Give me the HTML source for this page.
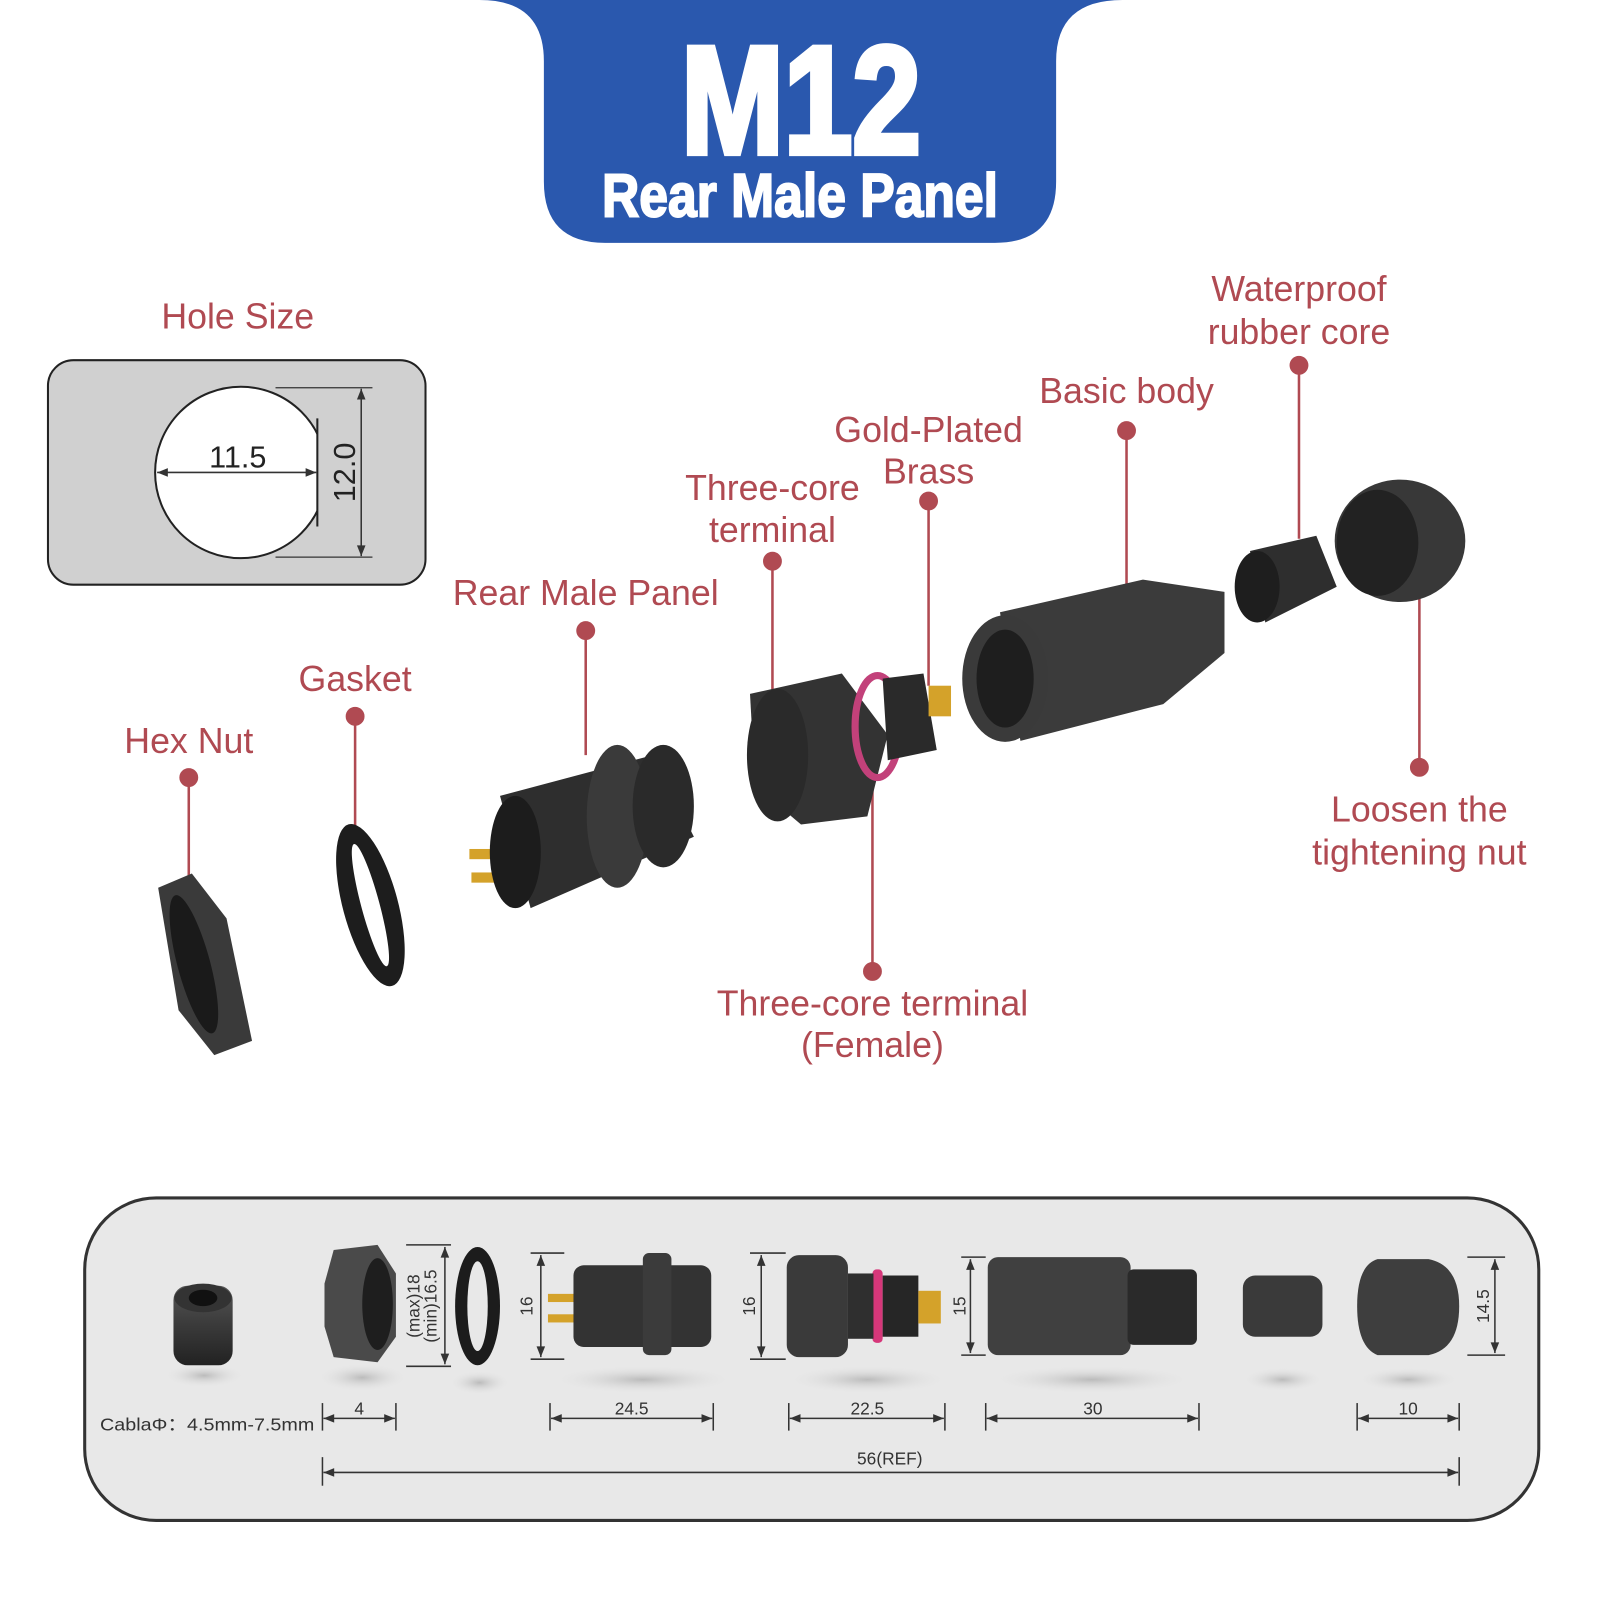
<!DOCTYPE html>
<html><head><meta charset="utf-8"><style>
html,body{margin:0;padding:0;background:#fff;}
svg{display:block}
.lab{font-family:"Liberation Sans",sans-serif;fill:#b04a52;font-size:35px;text-anchor:middle}
.dim{font-family:"Liberation Sans",sans-serif;fill:#333;font-size:17px;text-anchor:middle}
</style></head><body>
<svg width="1600" height="1600" viewBox="0 0 1568 1568" xmlns="http://www.w3.org/2000/svg">
<defs>
<marker id="a" viewBox="0 0 10 10" refX="10" refY="5" markerWidth="9" markerHeight="7" orient="auto-start-reverse"><path d="M0,1 L10,5 L0,9z" fill="#333"/></marker>
<linearGradient id="g" x1="0" y1="0" x2="0" y2="1"><stop offset="0" stop-color="#555"/><stop offset="0.5" stop-color="#3a3a3a"/><stop offset="1" stop-color="#222"/></linearGradient>
<radialGradient id="sh"><stop offset="0" stop-color="#bbb"/><stop offset="1" stop-color="#e8e8e8" stop-opacity="0"/></radialGradient>
</defs>
<path d="M470,0 H1100 Q1035,0 1035,60 V178 Q1035,238 975,238 H593 Q533,238 533,178 V60 Q533,0 470,0z" fill="#2a58ae"/>
<text x="785" y="150" font-family="Liberation Sans,sans-serif" font-weight="bold" font-size="150" fill="#fff" stroke="#fff" stroke-width="6" text-anchor="middle" textLength="235" lengthAdjust="spacingAndGlyphs">M12</text>
<text x="784" y="212" font-family="Liberation Sans,sans-serif" font-weight="bold" font-size="60" fill="#fff" stroke="#fff" stroke-width="2" text-anchor="middle" textLength="388" lengthAdjust="spacingAndGlyphs">Rear Male Panel</text>
<text class="lab" x="233" y="322" font-size="40">Hole Size</text>
<rect x="47" y="353" width="370" height="220" rx="25" fill="#d0d0d0" stroke="#222" stroke-width="2"/>
<clipPath id="hc"><rect x="140" y="370" width="171" height="190"/></clipPath>
<circle cx="236" cy="463" r="84" fill="#fff" stroke="#222" stroke-width="2" clip-path="url(#hc)"/>
<line x1="311" y1="410" x2="311" y2="516" stroke="#222" stroke-width="2"/>
<line x1="154" y1="463" x2="310" y2="463" stroke="#333" stroke-width="1.5" marker-start="url(#a)" marker-end="url(#a)"/>
<text x="233" y="458" font-family="Liberation Sans,sans-serif" font-size="30" fill="#222" text-anchor="middle">11.5</text>
<line x1="270" y1="380" x2="365" y2="380" stroke="#333" stroke-width="1.2"/>
<line x1="270" y1="546" x2="365" y2="546" stroke="#333" stroke-width="1.2"/>
<line x1="354" y1="381" x2="354" y2="545" stroke="#333" stroke-width="1.5" marker-start="url(#a)" marker-end="url(#a)"/>
<text x="0" y="0" transform="translate(348,463) rotate(-90)" font-family="Liberation Sans,sans-serif" font-size="30" fill="#222" text-anchor="middle">12.0</text>
<g stroke="#b04a52" stroke-width="2.5" fill="#b04a52">
<line x1="185" y1="762" x2="185" y2="860"/><circle cx="185" cy="762" r="8"/>
<line x1="348" y1="702" x2="348" y2="812"/><circle cx="348" cy="702" r="8"/>
<line x1="574" y1="618" x2="574" y2="740"/><circle cx="574" cy="618" r="8"/>
<line x1="757" y1="550" x2="757" y2="680"/><circle cx="757" cy="550" r="8"/>
<line x1="910" y1="491" x2="910" y2="672"/><circle cx="910" cy="491" r="8"/>
<line x1="1104" y1="422" x2="1104" y2="578"/><circle cx="1104" cy="422" r="8"/>
<line x1="1273" y1="358" x2="1273" y2="528"/><circle cx="1273" cy="358" r="8"/>
<line x1="1391" y1="560" x2="1391" y2="752"/><circle cx="1391" cy="752" r="8"/>
<line x1="855" y1="745" x2="855" y2="952"/><circle cx="855" cy="952" r="8"/>
</g>
<text class="lab" x="185" y="738">Hex Nut</text>
<text class="lab" x="348" y="677">Gasket</text>
<text class="lab" x="574" y="593">Rear Male Panel</text>
<text class="lab" x="757" y="490">Three-core</text><text class="lab" x="757" y="531">terminal</text>
<text class="lab" x="910" y="433">Gold-Plated</text><text class="lab" x="910" y="474">Brass</text>
<text class="lab" x="1104" y="395">Basic body</text>
<text class="lab" x="1273" y="295">Waterproof</text><text class="lab" x="1273" y="337">rubber core</text>
<text class="lab" x="1391" y="805">Loosen the</text><text class="lab" x="1391" y="847">tightening nut</text>
<text class="lab" x="855" y="995">Three-core terminal</text><text class="lab" x="855" y="1036">(Female)</text>
<g>
<path d="M155,870 L188,856 L222,900 L247,1020 L210,1034 L175,990 z" fill="#3a3a3a"/>
<ellipse cx="190" cy="945" rx="16" ry="70" fill="#1a1a1a" transform="rotate(-15 190 945)"/>
<ellipse cx="363" cy="887" rx="27" ry="82" fill="#1d1d1d" transform="rotate(-15 363 887)"/>
<ellipse cx="363" cy="887" rx="9" ry="62" fill="#fff" transform="rotate(-15 363 887)"/>
<rect x="460" y="832" width="40" height="10" fill="#d4a22a"/><rect x="462" y="855" width="40" height="10" fill="#d4a22a"/>
<path d="M490,780 L640,740 L680,820 L520,890 z" fill="#2e2e2e"/>
<ellipse cx="505" cy="835" rx="25" ry="55" fill="#1c1c1c"/>
<ellipse cx="605" cy="800" rx="30" ry="70" fill="#3a3a3a"/>
<ellipse cx="650" cy="790" rx="30" ry="60" fill="#2a2a2a"/>
<path d="M735,680 L825,660 L870,720 L850,800 L785,808 L740,770 z" fill="#333"/>
<ellipse cx="762" cy="740" rx="30" ry="65" fill="#2a2a2a"/>
<ellipse cx="860" cy="712" rx="22" ry="50" fill="none" stroke="#c2417a" stroke-width="7"/>
<path d="M865,665 L905,660 L918,735 L870,745 z" fill="#2a2a2a"/>
<rect x="910" y="672" width="22" height="30" fill="#d4a22a"/>
<path d="M980,600 L1120,568 L1200,580 L1200,640 L1140,690 L1000,726 z" fill="#3b3b3b"/>
<ellipse cx="985" cy="665" rx="42" ry="62" fill="#3a3a3a"/>
<ellipse cx="985" cy="665" rx="28" ry="48" fill="#1e1e1e"/>
<path d="M1225,540 L1290,525 L1310,575 L1240,610 z" fill="#2e2e2e"/>
<ellipse cx="1232" cy="575" rx="22" ry="35" fill="#1e1e1e"/>
<ellipse cx="1372" cy="530" rx="64" ry="60" fill="#383838"/>
<ellipse cx="1350" cy="532" rx="40" ry="52" fill="#222"/>
</g>
<rect x="83" y="1174" width="1425" height="316" rx="70" fill="#e8e8e8" stroke="#333" stroke-width="3"/>
<g fill="url(#sh)">
<ellipse cx="200" cy="1348" rx="40" ry="12"/><ellipse cx="355" cy="1350" rx="45" ry="14"/><ellipse cx="470" cy="1355" rx="30" ry="12"/>
<ellipse cx="630" cy="1352" rx="90" ry="14"/><ellipse cx="850" cy="1352" rx="80" ry="14"/><ellipse cx="1070" cy="1352" rx="100" ry="14"/>
<ellipse cx="1257" cy="1352" rx="40" ry="12"/><ellipse cx="1380" cy="1352" rx="50" ry="12"/>
</g>
<rect x="170" y="1260" width="58" height="78" rx="14" fill="url(#g)"/><ellipse cx="199" cy="1272" rx="28" ry="14" fill="#333"/><ellipse cx="199" cy="1272" rx="14" ry="8" fill="#111"/>
<path d="M327,1225 L370,1220 L388,1248 L388,1310 L370,1335 L327,1330 L318,1300 L318,1258z" fill="#4a4a4a"/>
<ellipse cx="370" cy="1278" rx="15" ry="45" fill="#1e1e1e"/>
<ellipse cx="468" cy="1280" rx="22" ry="58" fill="#1c1c1c"/><ellipse cx="468" cy="1280" rx="10" ry="44" fill="#e8e8e8"/>
<rect x="537" y="1268" width="28" height="8" fill="#d4a22a"/><rect x="537" y="1288" width="28" height="8" fill="#d4a22a"/>
<rect x="562" y="1240" width="135" height="80" rx="10" fill="#333"/><rect x="630" y="1228" width="28" height="100" rx="6" fill="#3b3b3b"/>
<rect x="771" y="1230" width="60" height="100" rx="12" fill="#3a3a3a"/><rect x="855" y="1244" width="10" height="72" rx="4" fill="#d6377a"/>
<rect x="865" y="1250" width="35" height="60" fill="#262626"/><rect x="900" y="1265" width="22" height="32" fill="#d4a22a"/>
<rect x="831" y="1248" width="25" height="64" fill="#2f2f2f"/>
<rect x="968" y="1232" width="140" height="96" rx="10" fill="#404040"/><rect x="1105" y="1244" width="68" height="74" rx="6" fill="#2a2a2a"/>
<rect x="1218" y="1250" width="78" height="60" rx="12" fill="#3a3a3a"/>
<path d="M1350,1234 H1400 Q1430,1240 1430,1280 Q1430,1322 1400,1328 H1350 Q1330,1320 1330,1280 Q1330,1240 1350,1234z" fill="#3e3e3e"/>
<g stroke="#333" stroke-width="1.5" fill="none">
<line x1="398" y1="1220" x2="442" y2="1220"/><line x1="398" y1="1339" x2="442" y2="1339"/><line x1="436" y1="1222" x2="436" y2="1337" marker-start="url(#a)" marker-end="url(#a)"/>
<line x1="520" y1="1228" x2="553" y2="1228"/><line x1="520" y1="1332" x2="553" y2="1332"/><line x1="530" y1="1230" x2="530" y2="1330" marker-start="url(#a)" marker-end="url(#a)"/>
<line x1="735" y1="1228" x2="770" y2="1228"/><line x1="735" y1="1332" x2="770" y2="1332"/><line x1="746" y1="1230" x2="746" y2="1330" marker-start="url(#a)" marker-end="url(#a)"/>
<line x1="942" y1="1232" x2="966" y2="1232"/><line x1="942" y1="1328" x2="966" y2="1328"/><line x1="951" y1="1234" x2="951" y2="1326" marker-start="url(#a)" marker-end="url(#a)"/>
<line x1="1438" y1="1232" x2="1475" y2="1232"/><line x1="1438" y1="1328" x2="1475" y2="1328"/><line x1="1465" y1="1234" x2="1465" y2="1326" marker-start="url(#a)" marker-end="url(#a)"/>
<line x1="316" y1="1375" x2="316" y2="1402"/><line x1="388" y1="1375" x2="388" y2="1402"/><line x1="317" y1="1390" x2="387" y2="1390" marker-start="url(#a)" marker-end="url(#a)"/>
<line x1="539" y1="1375" x2="539" y2="1402"/><line x1="699" y1="1375" x2="699" y2="1402"/><line x1="540" y1="1390" x2="698" y2="1390" marker-start="url(#a)" marker-end="url(#a)"/>
<line x1="773" y1="1375" x2="773" y2="1402"/><line x1="926" y1="1375" x2="926" y2="1402"/><line x1="774" y1="1390" x2="925" y2="1390" marker-start="url(#a)" marker-end="url(#a)"/>
<line x1="966" y1="1375" x2="966" y2="1402"/><line x1="1175" y1="1375" x2="1175" y2="1402"/><line x1="967" y1="1390" x2="1174" y2="1390" marker-start="url(#a)" marker-end="url(#a)"/>
<line x1="1330" y1="1375" x2="1330" y2="1402"/><line x1="1430" y1="1375" x2="1430" y2="1402"/><line x1="1331" y1="1390" x2="1429" y2="1390" marker-start="url(#a)" marker-end="url(#a)"/>
<line x1="316" y1="1428" x2="316" y2="1456"/><line x1="1430" y1="1428" x2="1430" y2="1456"/><line x1="317" y1="1443" x2="1429" y2="1443" marker-start="url(#a)" marker-end="url(#a)"/>
</g>
<g class="dim">
<text x="352" y="1386" class="dim">4</text><text x="619" y="1386" class="dim">24.5</text><text x="850" y="1386" class="dim">22.5</text>
<text x="1071" y="1386" class="dim">30</text><text x="1380" y="1386" class="dim">10</text><text x="872" y="1435" class="dim">56(REF)</text>
<text x="203" y="1402" class="dim" textLength="210" lengthAdjust="spacingAndGlyphs">CablaΦ：4.5mm-7.5mm</text>
<text transform="translate(411,1280) rotate(-90)" class="dim" font-size="15">(max)18</text>
<text transform="translate(428,1280) rotate(-90)" class="dim" font-size="15">(min)16.5</text>
<text transform="translate(522,1280) rotate(-90)" class="dim">16</text>
<text transform="translate(740,1280) rotate(-90)" class="dim">16</text>
<text transform="translate(946,1280) rotate(-90)" class="dim">15</text>
<text transform="translate(1459,1280) rotate(-90)" class="dim">14.5</text>
</g>
</svg>
</body></html>
